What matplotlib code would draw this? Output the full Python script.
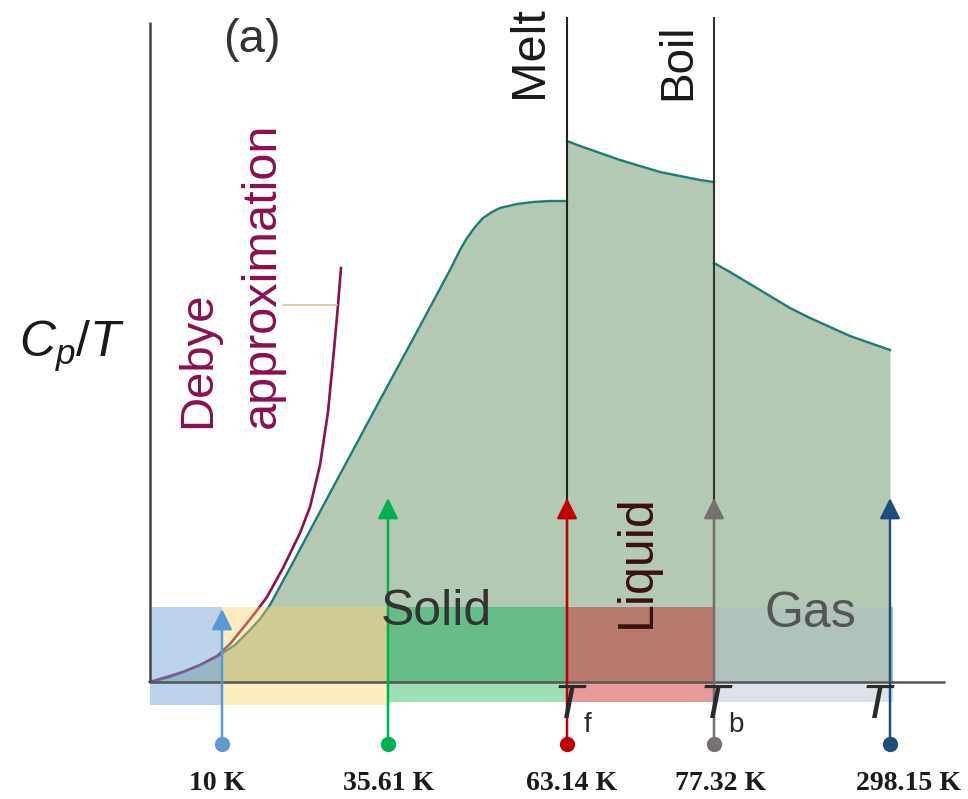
import matplotlib
matplotlib.use("Agg")
import matplotlib.pyplot as plt
from matplotlib.patches import Rectangle

plt.rcParams['font.family'] = ['Liberation Sans', 'DejaVu Sans']
plt.rcParams['mathtext.fontset'] = 'custom'
plt.rcParams['mathtext.it'] = 'Liberation Sans:italic'
plt.rcParams['mathtext.rm'] = 'Liberation Sans'

# Cp/T curve, arbitrary units (x = temperature axis, y = Cp/T)
solid_x = [0, 20, 33, 50, 70, 85, 100, 110, 120, 140, 180, 230, 270, 300, 310, 317,
           325, 333, 342, 350, 367, 383, 400, 417]
solid_y = [0, 5, 10, 17, 27, 37, 52, 63, 77, 114, 189, 282, 356, 412, 432, 444,
           455, 464, 470, 474, 478, 480, 481, 481]
liquid_x = [417, 430, 450, 470, 490, 510, 530, 550, 564]
liquid_y = [541, 536, 529, 522, 516, 510, 506, 502, 500]
gas_x = [564, 580, 600, 620, 640, 660, 680, 700, 720, 740]
gas_y = [419, 410, 398, 386, 374, 364, 355, 346, 339, 332]
debye_x = [0, 33, 50, 67, 80, 93, 105, 117, 133, 150, 160, 170, 178, 184, 188, 191]
debye_y = [0, 10, 17, 26, 38, 54, 69, 85, 114, 149, 175, 217, 270, 332, 377, 414]

melt_x = 417
boil_x = 564

# temperature markers; the phase bands start and stop at them
temp_x = [72, 238, 417, 564, 740]
temp_tip = [73, 184, 184, 184, 184]
temp_labels = ['10 K', '35.61 K', '63.14 K', '77.32 K', '298.15 K']
temp_colors = ['#5b9bd5', '#00b050', '#c00000', '#767171', '#1f4e79']
band_top = 75
band_end = 743

fig = plt.figure(figsize=(9.68, 7.99), dpi=100)
ax = fig.add_axes([0, 0, 1, 1])
ax.set_xlim(-150, 818)
ax.set_ylim(-117, 682)
ax.axis('off')

fill_c = '#b4c9b4'
line_c = '#1e7b78'
for xs, ys in [(solid_x, solid_y), (liquid_x, liquid_y), (gas_x, gas_y)]:
    ax.fill_between(xs, ys, 0, color=fill_c, lw=0, zorder=1)
    ax.plot(xs, ys, color=line_c, lw=1.7, zorder=2)
ax.plot(debye_x, debye_y, color='#8a1050', lw=1.9, zorder=2)
ax.plot([133, 187], [377, 377], color='#e2c08d', lw=1.2, zorder=2)

# bands: blue and yellow are translucent, the rest opaque split at the axis
e = [0] + temp_x[:4] + [band_end]
ax.add_patch(Rectangle((e[0], -23), e[1] - e[0], band_top + 23, color='#79a9d9', alpha=0.5, lw=0, zorder=3))
ax.add_patch(Rectangle((e[1], -23), e[2] - e[1], band_top + 23, color='#fad264', alpha=0.42, lw=0, zorder=3))
upper = ['#66bd8a', '#b87a6e', '#afc2bd']
lower = ['#9de0b8', '#e8999b', '#dde2ea']
for i in range(3):
    x0, x1 = e[i + 2], e[i + 3]
    ax.add_patch(Rectangle((x0, 0), x1 - x0, band_top, color=upper[i], lw=0, zorder=3))
    ax.add_patch(Rectangle((x0, -20), x1 - x0, 20, color=lower[i], lw=0, zorder=3))

# axes lines
ax.plot([0, 0], [0, 660], color='#444444', lw=1.8, zorder=4, solid_capstyle='butt')
ax.plot([0, 795], [0, 0], color='#555555', lw=1.8, zorder=4, solid_capstyle='butt')
ax.plot([melt_x, melt_x], [0, 664], color='#222222', lw=1.5, zorder=4)
ax.plot([boil_x, boil_x], [0, 664], color='#333333', lw=1.5, zorder=4)

label_shift = [-5, 1, 5, 7, 18]
for x, tip, lab, c, dx in zip(temp_x, temp_tip, temp_labels, temp_colors, label_shift):
    ax.annotate('', xy=(x, tip), xytext=(x, -62),
                arrowprops=dict(arrowstyle='-|>,head_length=0.5,head_width=0.25',
                                color=c, lw=1.8, mutation_scale=25,
                                shrinkA=0, shrinkB=0), zorder=5)
    ax.plot(x, -62, 'o', color=c, ms=10, zorder=6)
    ax.text(x + dx, -101, lab, ha='center', va='center', fontsize=20,
            fontweight='bold', family=['Liberation Serif'], color='#1a1a1a', zorder=6)

ax.text(102, 642, '(a)', ha='center', va='center', fontsize=34, color='#333333')
ax.text(380, 630, 'Melt', rotation=90, ha='center', va='center', fontsize=35, color='#1a1a1a')
ax.text(528, 620, 'Boil', rotation=90, ha='center', va='center', fontsize=33, color='#1a1a1a')
ax.text(48, 254, 'Debye', rotation=90, ha='center', va='bottom', fontsize=34, color='#8a1050')
ax.text(112, 254, 'approximation', rotation=90, ha='center', va='bottom', fontsize=35, color='#8a1050')
ax.text(286, 70, 'Solid', ha='center', va='center', fontsize=36, color='#333333', zorder=6)
ax.text(660, 68, 'Gas', ha='center', va='center', fontsize=36, color='#555555', zorder=6)
ax.text(487, 54, 'Liquid', rotation=90, ha='center', va='bottom', fontsize=36, color='#3b1010', zorder=6)
ax.text(-78, 336, r'$C_p/T$', ha='center', va='center', fontsize=36, color='#1a1a1a')

# T labels under the axis, subscripts drawn small and low as in the source
for tx, sub, sx in [(419, 'f', 438), (565, 'b', 586), (726, '', 0)]:
    ax.text(tx, -23, 'T', ha='center', va='center', fontsize=35, style='italic',
            color='#2a2a2a', zorder=6)
    if sub:
        ax.text(sx, -43, sub, ha='center', va='center', fontsize=20,
                color='#2a2a2a', zorder=6)

fig.savefig('out.png', dpi=100)
